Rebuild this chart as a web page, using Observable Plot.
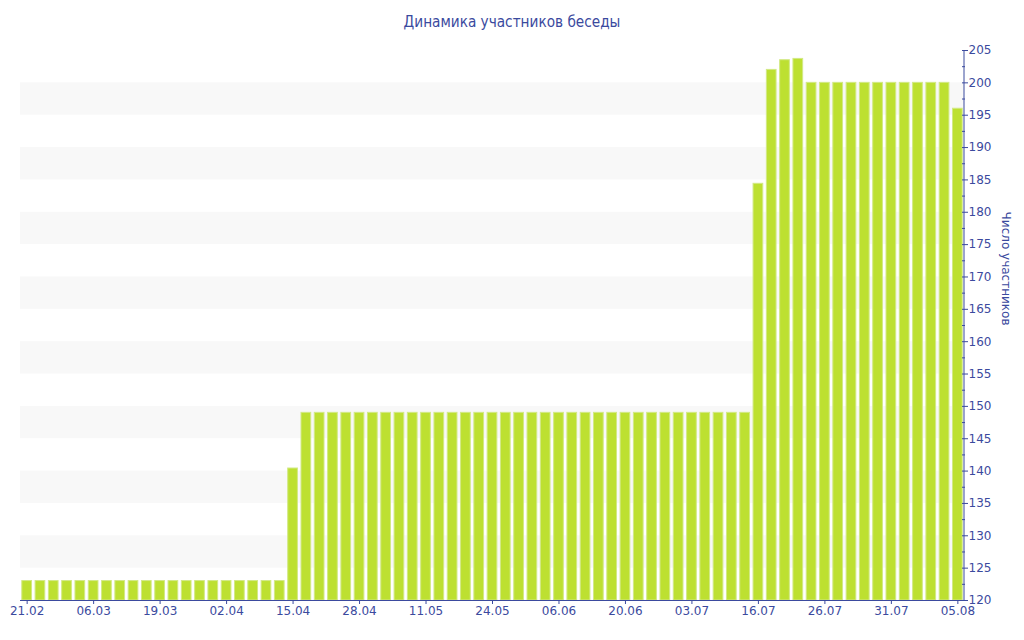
<!DOCTYPE html>
<html><head><meta charset="utf-8">
<script src="https://cdn.jsdelivr.net/npm/d3@7"></script>
<script src="https://cdn.jsdelivr.net/npm/@observablehq/plot@0.6"></script>
<style>
body{margin:0;background:#fff;}
#title{height:40px;text-align:center;font:15.2px "DejaVu Sans Condensed","DejaVu Sans",sans-serif;line-height:45px;color:#3b4a9e;}
</style></head><body>
<div id="title">Динамика участников беседы</div>
<div id="chart"></div>
<script>
const tickLabels = ["21.02","06.03","19.03","02.04","15.04","28.04","11.05","24.05","06.06","20.06","03.07","16.07","26.07","31.07","05.08"];
const members = [
  123,123,123,123,123,123,123,123,123,123,
  123,123,123,123,123,123,123,123,123,123,
  140.4,
  149,149,149,149,149,149,149,149,149,149,
  149,149,149,149,149,149,149,149,149,149,
  149,149,149,149,149,149,149,149,149,149,
  149,149,149,149,
  184.4,202,203.5,203.7,
  200,200,200,200,200,200,200,200,200,200,200,
  196
];
const bandFrom = [125,135,145,155,165,175,185,195];
const bandTo   = [130,140,150,160,170,180,190,200];
const yMajor = [120,125,130,135,140,145,150,155,160,165,170,175,180,185,190,195,200,205];
const yMinor = [122.5,127.5,132.5,137.5,142.5,147.5,152.5,157.5,162.5,167.5,172.5,177.5,182.5,187.5,192.5,197.5,202.5];
const yLabel = "Число участников";

const ink = "#3b4a9e";
const data = members.map((v, i) => ({i, v}));
const bands = bandFrom.map((d, k) => ({y1: d, y2: bandTo[k]}));
const tickIdx = tickLabels.map((_, k) => k * 5);

const axisLine = (index, scales, values, dims) => {
  const x = dims.width - dims.marginRight;
  return d3.create("svg:line")
    .attr("x1", x).attr("x2", x)
    .attr("y1", scales.y(205)).attr("y2", scales.y(120))
    .attr("stroke", ink).node();
};

const plot = Plot.plot({
  width: 1024, height: 600,
  marginTop: 10, marginBottom: 40, marginLeft: 20, marginRight: 60,
  style: {fontFamily: "DejaVu Sans, sans-serif", fontSize: "12px", color: ink, background: "#fff"},
  x: {type: "band", domain: d3.range(members.length), paddingInner: 0.27, paddingOuter: 0.135, round: false},
  y: {domain: [120, 205]},
  marks: [
    Plot.rectY(bands, {y1: "y1", y2: "y2", fill: "#f8f8f8"}),
    Plot.barY(data, {x: "i", y1: 120, y2: "v", fill: "#bde031", stroke: "#d2e985", strokeWidth: 1}),
    Plot.ruleY([120], {stroke: ink}),
    axisLine,
    Plot.axisX(tickIdx, {tickSize: 4, tickPadding: 2, tickFormat: i => tickLabels[i / 5], label: null, stroke: ink}),
    Plot.axisY(yMajor, {anchor: "right", tickSize: 0, tickPadding: 4, label: null}),
    Plot.axisY(yMajor, {anchor: "right", tickSize: 6, dx: -3, fill: "none", label: null, stroke: ink}),
    Plot.axisY(yMinor, {anchor: "right", tickSize: 3, dx: -3, fill: "none", label: null, stroke: ink}),
    Plot.text([yLabel], {frameAnchor: "right", dx: 41, rotate: 90, fill: ink, fontSize: 12})
  ]
});
document.getElementById("chart").appendChild(plot);
</script>
</body></html>
